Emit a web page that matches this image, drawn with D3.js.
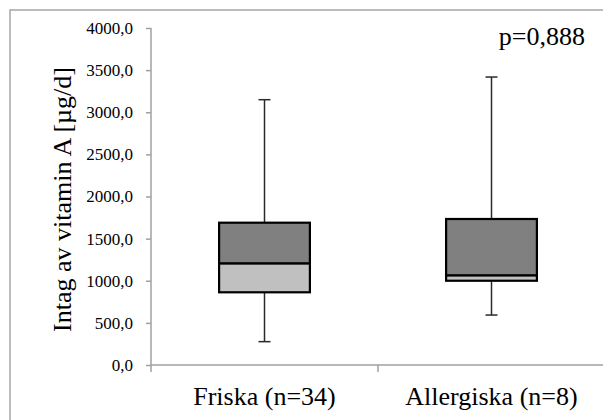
<!DOCTYPE html>
<html>
<head>
<meta charset="utf-8">
<script src="https://cdn.jsdelivr.net/npm/d3@7"></script>
<style>
	body { margin: 0; background: #fff; }
	svg text { font-family: "Liberation Serif", "Times New Roman", serif; fill: #000; }
</style>
</head>
<body>
<svg id="chart" width="603" height="420"></svg>
<script>

// values
var categories = ['Friska (n=34)', 'Allergiska (n=8)'];
var minValues = [277, 593];
var q1Values = [863, 1000];
var medianValues = [1207, 1065];
var q3Values = [1689, 1733];
var maxValues = [3149, 3418];
var yTicks = [0, 500, 1000, 1500, 2000, 2500, 3000, 3500, 4000];
var pText = 'p=0,888';
var yLabel = 'Intag av vitamin A [µg/d]';


var svg = d3.select('#chart');

var plot = {left: 151, right: 605, top: 28, bottom: 365};

var y = d3.scaleLinear().domain([0, 4000]).range([plot.bottom, plot.top]);
var x = d3.scaleBand().domain(categories).range([plot.left, plot.right]);

var boxes = categories.map(function(c, i) {
	return {cat: c, min: minValues[i], q1: q1Values[i], med: medianValues[i], q3: q3Values[i], max: maxValues[i]};
});

// outer frame (right and bottom edges fall outside the window)
svg.append('rect')
	.attr('x', 10).attr('y', 10)
	.attr('width', 620).attr('height', 430)
	.attr('fill', 'none')
	.attr('stroke', '#a6a6a6')
	.attr('stroke-width', 1.5);

// y axis
var yAxis = d3.axisLeft(y)
	.tickValues(yTicks)
	.tickSize(5)
	.tickPadding(13)
	.tickFormat(function(d) { return d3.format('.1f')(d).replace('.', ','); });

var gy = svg.append('g')
	.attr('transform', 'translate(' + plot.left + ',0)')
	.call(yAxis)
	.attr('font-family', null)
	.attr('font-size', null);
gy.selectAll('path, line').attr('stroke', '#a0a0a0').attr('stroke-width', 1.5);
gy.select('.domain').attr('d', 'M0,' + plot.top + 'V' + plot.bottom);
gy.selectAll('text')
	.attr('font-family', 'Liberation Serif')
	.attr('font-size', 17)
	.attr('fill', '#000');

// x axis, ticks between categories
var gx = svg.append('g')
	.attr('transform', 'translate(0,' + plot.bottom + ')');
gx.append('line')
	.attr('x1', plot.left).attr('x2', plot.right)
	.attr('stroke', '#a0a0a0').attr('stroke-width', 1.5);
gx.selectAll('line.sep')
	.data([plot.left].concat(categories.map(function(c) { return x(c) + x.bandwidth(); })))
	.enter().append('line')
	.attr('class', 'sep')
	.attr('x1', function(d) { return d; }).attr('x2', function(d) { return d; })
	.attr('y1', 0).attr('y2', 7)
	.attr('stroke', '#a0a0a0').attr('stroke-width', 1.5);
gx.selectAll('text')
	.data(categories)
	.enter().append('text')
	.attr('x', function(d) { return x(d) + x.bandwidth() / 2; })
	.attr('y', 40)
	.attr('text-anchor', 'middle')
	.style('font-size', '26px')
	.text(function(d) { return d; });

// boxes
var boxWidth = x.bandwidth() * 0.4;
var capWidth = 12;

var g = svg.selectAll('g.box')
	.data(boxes)
	.enter().append('g')
	.attr('class', 'box')
	.attr('transform', function(d) { return 'translate(' + (x(d.cat) + x.bandwidth() / 2) + ',0)'; });

// whiskers
g.append('line')
	.attr('x1', 0).attr('x2', 0)
	.attr('y1', function(d) { return y(d.max); })
	.attr('y2', function(d) { return y(d.q3); })
	.attr('stroke', '#2a2a2a').attr('stroke-width', 1.5);
g.append('line')
	.attr('x1', 0).attr('x2', 0)
	.attr('y1', function(d) { return y(d.q1); })
	.attr('y2', function(d) { return y(d.min); })
	.attr('stroke', '#2a2a2a').attr('stroke-width', 1.5);
g.append('line')
	.attr('x1', -capWidth / 2).attr('x2', capWidth / 2)
	.attr('y1', function(d) { return y(d.max); })
	.attr('y2', function(d) { return y(d.max); })
	.attr('stroke', '#2a2a2a').attr('stroke-width', 1.5);
g.append('line')
	.attr('x1', -capWidth / 2).attr('x2', capWidth / 2)
	.attr('y1', function(d) { return y(d.min); })
	.attr('y2', function(d) { return y(d.min); })
	.attr('stroke', '#2a2a2a').attr('stroke-width', 1.5);

// lower part of box (q1 - median)
g.append('rect')
	.attr('x', -boxWidth / 2)
	.attr('width', boxWidth)
	.attr('y', function(d) { return y(d.med); })
	.attr('height', function(d) { return y(d.q1) - y(d.med); })
	.attr('fill', '#c0c0c0')
	.attr('stroke', '#000').attr('stroke-width', 2.2);

// upper part of box (median - q3)
g.append('rect')
	.attr('x', -boxWidth / 2)
	.attr('width', boxWidth)
	.attr('y', function(d) { return y(d.q3); })
	.attr('height', function(d) { return y(d.med) - y(d.q3); })
	.attr('fill', '#808080')
	.attr('stroke', '#000').attr('stroke-width', 2.2);

// y label
svg.append('text')
	.attr('transform', 'translate(71,' + ((plot.top + plot.bottom) / 2 + 3) + ') rotate(-90)')
	.attr('text-anchor', 'middle')
	.style('font-size', '26px')
	.text(yLabel);

// p value
svg.append('text')
	.attr('x', 585).attr('y', 45)
	.attr('text-anchor', 'end')
	.style('font-size', '26px')
	.text(pText);

</script>
</body>
</html>
